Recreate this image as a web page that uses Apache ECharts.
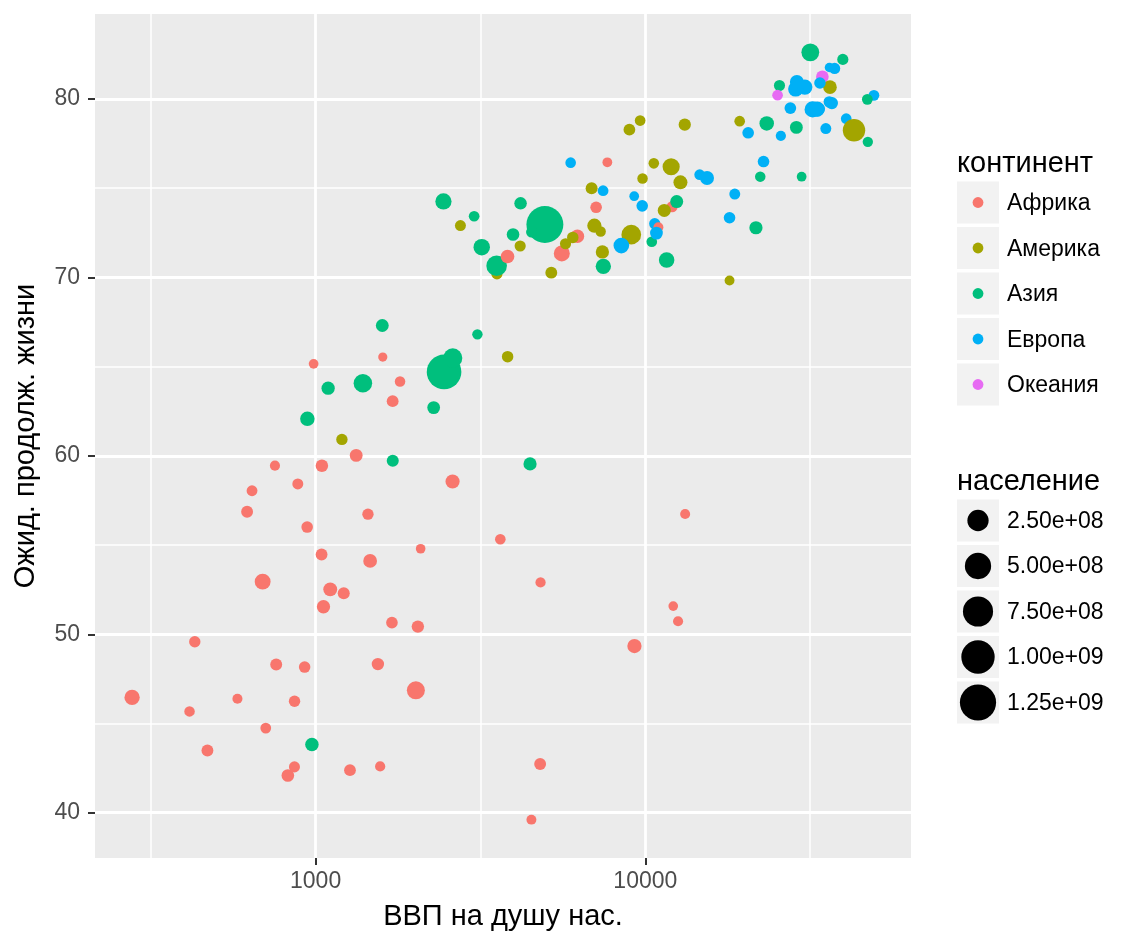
<!DOCTYPE html>
<html>
<head>
<meta charset="utf-8">
<script src="https://cdn.jsdelivr.net/npm/echarts@6/dist/echarts.min.js"></script>
<style>
  html, body { margin: 0; padding: 0; background: #fff; }
  #chart { width: 1133px; height: 944px; }
</style>
</head>
<body>
<div id="chart"></div>
<script>
// gapminder 2007: [country, gdpPercap, lifeExp, pop]
var africa = [
  ['Algeria', 6223.367, 72.301, 33333216], ['Angola', 4797.231, 42.731, 12420476],
  ['Benin', 1441.285, 56.728, 8078314], ['Botswana', 12569.85, 50.728, 1639131],
  ['Burkina Faso', 1217.033, 52.295, 14326203], ['Burundi', 430.0707, 49.580, 8390505],
  ['Cameroon', 2042.095, 50.430, 17696293], ['Central African Republic', 706.0165, 44.741, 4369038],
  ['Chad', 1704.064, 50.651, 10238807], ['Comoros', 986.1479, 65.152, 710960],
  ['Congo, Dem. Rep.', 277.5519, 46.462, 64606759], ['Congo, Rep.', 3632.558, 55.322, 3800610],
  ["Cote d'Ivoire", 1544.750, 48.328, 18013409], ['Djibouti', 2082.482, 54.791, 496374],
  ['Egypt', 5581.181, 71.338, 80264543], ['Equatorial Guinea', 12154.09, 51.579, 551201],
  ['Eritrea', 641.3695, 58.040, 4906585], ['Ethiopia', 690.8056, 52.947, 76511887],
  ['Gabon', 13206.48, 56.735, 1454867], ['Gambia', 752.7497, 59.448, 1688359],
  ['Ghana', 1327.609, 60.022, 22873338], ['Guinea', 942.6542, 56.007, 9947814],
  ['Guinea-Bissau', 579.2317, 46.388, 1472041], ['Kenya', 1463.249, 54.110, 35610177],
  ['Lesotho', 1569.331, 42.592, 2012649], ['Liberia', 414.5073, 45.678, 3193942],
  ['Libya', 12057.50, 73.952, 6036914], ['Madagascar', 1044.770, 59.443, 19167654],
  ['Malawi', 759.3499, 48.303, 13327079], ['Mali', 1042.582, 54.467, 12031795],
  ['Mauritania', 1803.151, 64.164, 3270065], ['Mauritius', 10956.99, 72.801, 1250882],
  ['Morocco', 3820.175, 71.164, 33757175], ['Mozambique', 823.6856, 42.082, 19951656],
  ['Namibia', 4811.060, 52.906, 2055080], ['Niger', 619.6769, 56.867, 12894865],
  ['Nigeria', 2013.977, 46.859, 135031164], ['Reunion', 7670.123, 76.442, 798094],
  ['Rwanda', 863.0885, 46.242, 8860588], ['Sao Tome and Principe', 1598.435, 65.528, 199579],
  ['Senegal', 1712.472, 63.062, 12267493], ['Sierra Leone', 862.5408, 42.568, 6144562],
  ['Somalia', 926.1411, 48.159, 9118773], ['South Africa', 9269.658, 49.339, 43997828],
  ['Sudan', 2602.395, 58.556, 42292929], ['Swaziland', 4513.481, 39.613, 1133066],
  ['Tanzania', 1107.482, 52.517, 38139640], ['Togo', 882.9699, 58.420, 5701579],
  ['Tunisia', 7092.923, 73.923, 10276158], ['Uganda', 1056.380, 51.542, 29170398],
  ['Zambia', 1271.212, 42.384, 11746035], ['Zimbabwe', 469.7093, 43.487, 12311143]
];
var americas = [
  ['Argentina', 12779.38, 75.320, 40301927], ['Bolivia', 3822.137, 65.554, 9119152],
  ['Brazil', 9065.801, 72.390, 190010647], ['Canada', 36319.24, 80.653, 33390141],
  ['Chile', 13171.64, 78.553, 16284741], ['Colombia', 7006.580, 72.889, 44227550],
  ['Costa Rica', 9645.061, 78.782, 4133884], ['Cuba', 8948.103, 78.273, 11416987],
  ['Dominican Republic', 6025.375, 72.235, 9319622], ['Ecuador', 6873.262, 74.994, 13755680],
  ['El Salvador', 5728.354, 71.878, 6939688], ['Guatemala', 5186.050, 70.259, 12572928],
  ['Haiti', 1201.637, 60.916, 8502814], ['Honduras', 3548.331, 70.198, 7483763],
  ['Jamaica', 7320.880, 72.567, 2780132], ['Mexico', 11977.57, 76.195, 108700891],
  ['Nicaragua', 2749.321, 72.899, 5675356], ['Panama', 9809.186, 75.537, 3242173],
  ['Paraguay', 4172.838, 71.752, 6667147], ['Peru', 7408.906, 71.421, 28674757],
  ['Puerto Rico', 19328.71, 78.746, 3942491], ['Trinidad and Tobago', 18008.51, 69.819, 1056608],
  ['United States', 42951.65, 78.242, 301139947], ['Uruguay', 10611.46, 76.384, 3447496],
  ['Venezuela', 11415.81, 73.747, 26084662]
];
var asia = [
  ['Afghanistan', 974.5803, 43.828, 31889923], ['Bahrain', 29796.05, 75.635, 708573],
  ['Bangladesh', 1391.254, 64.062, 150448339], ['Cambodia', 1713.779, 59.723, 14131858],
  ['China', 4959.115, 72.961, 1318683096], ['Hong Kong, China', 39724.98, 82.208, 6980412],
  ['India', 2452.210, 64.698, 1110396331], ['Indonesia', 3540.652, 70.650, 223547000],
  ['Iran', 11605.71, 70.964, 69453570], ['Iraq', 4471.062, 59.545, 27499638],
  ['Israel', 25523.28, 80.745, 6426679], ['Japan', 31656.07, 82.603, 127467972],
  ['Jordan', 4519.461, 72.535, 6053193], ['Korea, Dem. Rep.', 1593.065, 67.297, 23301725],
  ['Korea, Rep.', 23348.14, 78.623, 49044790], ['Kuwait', 47306.99, 77.588, 2505559],
  ['Lebanon', 10461.06, 71.993, 3921278], ['Malaysia', 12451.66, 74.241, 24821286],
  ['Mongolia', 3095.772, 66.803, 2874127], ['Myanmar', 944.0000, 62.069, 47761980],
  ['Nepal', 1091.360, 63.785, 28901790], ['Oman', 22316.19, 75.640, 3204897],
  ['Pakistan', 2605.948, 65.483, 169270617], ['Philippines', 3190.481, 71.688, 91077287],
  ['Saudi Arabia', 21654.83, 72.777, 27601038], ['Singapore', 47143.18, 79.972, 4553009],
  ['Sri Lanka', 3970.095, 72.396, 20378239], ['Syria', 4184.548, 74.143, 19314747],
  ['Taiwan', 28718.28, 78.400, 23174294], ['Thailand', 7458.396, 70.616, 65068149],
  ['Vietnam', 2441.577, 74.249, 85262356], ['West Bank and Gaza', 3025.350, 73.422, 4018332],
  ['Yemen, Rep.', 2280.770, 62.698, 22211743]
];
var europe = [
  ['Albania', 5937.030, 76.423, 3600523], ['Austria', 36126.49, 79.829, 8199783],
  ['Belgium', 33692.61, 79.441, 10392226], ['Bosnia and Herzegovina', 7446.299, 74.852, 4552198],
  ['Bulgaria', 10680.79, 73.005, 7322858], ['Croatia', 14619.22, 75.748, 4493312],
  ['Czech Republic', 22833.31, 76.486, 10228744], ['Denmark', 35278.42, 78.332, 5468120],
  ['Finland', 33207.08, 79.313, 5238460], ['France', 30470.02, 80.657, 61083916],
  ['Germany', 32170.37, 79.406, 82400996], ['Greece', 27538.41, 79.483, 10706290],
  ['Hungary', 18008.94, 73.338, 9956108], ['Iceland', 36180.79, 81.757, 301931],
  ['Ireland', 40676.00, 78.885, 4109086], ['Italy', 28569.72, 80.546, 58147733],
  ['Montenegro', 9253.896, 74.543, 684736], ['Netherlands', 36797.93, 79.762, 16570613],
  ['Norway', 49357.19, 80.196, 4627926], ['Poland', 15389.92, 75.563, 38518241],
  ['Portugal', 20509.65, 78.098, 10642836], ['Romania', 10808.48, 72.476, 22276056],
  ['Serbia', 9786.535, 74.002, 10150265], ['Slovak Republic', 18678.31, 74.663, 5447502],
  ['Slovenia', 25768.26, 77.926, 2009245], ['Spain', 28821.06, 80.941, 40448191],
  ['Sweden', 33859.75, 80.884, 9031088], ['Switzerland', 37506.42, 81.701, 7554661],
  ['Turkey', 8458.276, 71.777, 71158647], ['United Kingdom', 33203.26, 79.425, 60776238]
];
var oceania = [
  ['Australia', 34435.37, 81.235, 20434176], ['New Zealand', 25185.01, 80.204, 4115771]
];

var continents = ['Африка', 'Америка', 'Азия', 'Европа', 'Океания'];
var continentColors = ['#F8766D', '#A3A500', '#00BF7D', '#00B0F6', '#E76BF3'];
var sizeBreaks = [2.5e8, 5e8, 7.5e8, 1e9, 1.25e9];
var sizeLabels = ['2.50e+08', '5.00e+08', '7.50e+08', '1.00e+09', '1.25e+09'];
var yTicks = [40, 50, 60, 70, 80];
var yMinor = [45, 55, 65, 75];
var xTicks = [1000, 10000];
var xMinor = [316.2278, 3162.278, 31622.78];

(function() {
  var groups = [africa, americas, asia, europe, oceania];
  var all = [];
  groups.forEach(function(g, i) {
    g.forEach(function(r) { all.push({ name: r[0], gdp: r[1], life: r[2], pop: r[3], c: i }); });
  });
  // ggplot draws rows in dataset (alphabetical) order
  all.sort(function(a, b) { return a.name < b.name ? -1 : a.name > b.name ? 1 : 0; });

  var pops = all.map(function(d) { return d.pop; });
  var popMin = Math.min.apply(null, pops), popMax = Math.max.apply(null, pops);
  // scale_size area palette, range 1..6, converted to px diameter
  function ptSize(p) {
    var s = 1 + 5 * Math.sqrt(Math.max(0, p - popMin) / (popMax - popMin));
    return 1.95 * (s * 2.845 + 0.945) + 1.8;
  }

  var lx = all.map(function(d) { return Math.log10(d.gdp); });
  var ly = all.map(function(d) { return d.life; });
  var x0 = Math.min.apply(null, lx), x1 = Math.max.apply(null, lx);
  var y0 = Math.min.apply(null, ly), y1 = Math.max.apply(null, ly);
  var xMin = x0 - 0.05 * (x1 - x0), xMax = x1 + 0.05 * (x1 - x0);
  var yMin = y0 - 0.05 * (y1 - y0), yMax = y1 + 0.05 * (y1 - y0);

  var points = all.map(function(d) {
    return {
      name: d.name,
      value: [Math.log10(d.gdp), d.life, d.pop],
      symbolSize: ptSize(d.pop),
      itemStyle: { color: continentColors[d.c] }
    };
  });

  var major = { color: '#FFFFFF', width: 2.8, type: 'solid' };
  var minor = { color: '#FFFFFF', width: 1.5, type: 'solid' };
  var gridLines = [];
  xMinor.forEach(function(v) { gridLines.push({ xAxis: Math.log10(v), lineStyle: minor }); });
  yMinor.forEach(function(v) { gridLines.push({ yAxis: v, lineStyle: minor }); });
  xTicks.forEach(function(v) { gridLines.push({ xAxis: Math.log10(v), lineStyle: major }); });
  yTicks.forEach(function(v) { gridLines.push({ yAxis: v, lineStyle: major }); });

  var font = '"Liberation Sans", Arial, sans-serif';
  var legendX = 957, keyW = 42, keyStep = 45.5;
  var graphics = [];
  graphics.push({ type: 'text', left: legendX, top: 149,
    style: { text: 'континент', font: '29px ' + font, fill: '#000' } });
  continents.forEach(function(name, i) {
    var cy = 202.5 + i * keyStep;
    graphics.push({ type: 'rect', shape: { x: legendX, y: cy - keyW / 2, width: keyW, height: keyW },
      style: { fill: '#F2F2F2' } });
    graphics.push({ type: 'circle', shape: { cx: legendX + keyW / 2, cy: cy, r: 5.4 },
      style: { fill: continentColors[i] } });
    graphics.push({ type: 'text', x: 1007, y: cy + 1.5,
      style: { text: name, font: '23px ' + font, fill: '#000', verticalAlign: 'middle' } });
  });
  graphics.push({ type: 'text', left: legendX, top: 467,
    style: { text: 'население', font: '29px ' + font, fill: '#000' } });
  sizeBreaks.forEach(function(v, i) {
    var cy = 520.5 + i * keyStep;
    graphics.push({ type: 'rect', shape: { x: legendX, y: cy - keyW / 2, width: keyW, height: keyW },
      style: { fill: '#F2F2F2' } });
    graphics.push({ type: 'circle', shape: { cx: legendX + keyW / 2, cy: cy, r: ptSize(v) / 2 },
      style: { fill: '#000' } });
    graphics.push({ type: 'text', x: 1007, y: cy + 1,
      style: { text: sizeLabels[i], font: '23px ' + font, fill: '#000', verticalAlign: 'middle' } });
  });

  var chart = echarts.init(document.getElementById('chart'), null, { renderer: 'canvas' });
  chart.setOption({
    animation: false,
    textStyle: { fontFamily: font },
    grid: { left: 95, right: 222, top: 14, bottom: 86, show: true,
      backgroundColor: '#EBEBEB', borderWidth: 0 },
    xAxis: {
      type: 'value', min: xMin, max: xMax,
      name: 'ВВП на душу нас.', nameLocation: 'middle', nameGap: 44,
      nameTextStyle: { fontSize: 29, color: '#000' },
      axisLine: { show: false },
      splitLine: { show: false },
      axisTick: { show: true, length: 7, customValues: xTicks.map(Math.log10),
        lineStyle: { color: '#333333', width: 2 } },
      axisLabel: { customValues: xTicks.map(Math.log10), margin: 12, fontSize: 23, color: '#4D4D4D',
        formatter: function(v) { return String(Math.round(Math.pow(10, v))); } }
    },
    yAxis: {
      type: 'value', min: yMin, max: yMax,
      name: 'Ожид. продолж. жизни', nameLocation: 'middle', nameGap: 55,
      nameTextStyle: { fontSize: 29, color: '#000' },
      axisLine: { show: false },
      splitLine: { show: false },
      axisTick: { show: true, length: 7, customValues: yTicks,
        lineStyle: { color: '#333333', width: 2 } },
      axisLabel: { customValues: yTicks, margin: 15, fontSize: 23, color: '#4D4D4D' }
    },
    series: [{
      type: 'scatter',
      z: 2,
      data: points,
      itemStyle: { opacity: 1 },
      markLine: {
        z: 1, silent: true, symbol: ['none', 'none'],
        label: { show: false }, emphasis: { disabled: true },
        data: gridLines
      }
    }],
    graphic: graphics
  });
  window.addEventListener('resize', function() { chart.resize(); });
})();
</script>
</body>
</html>
